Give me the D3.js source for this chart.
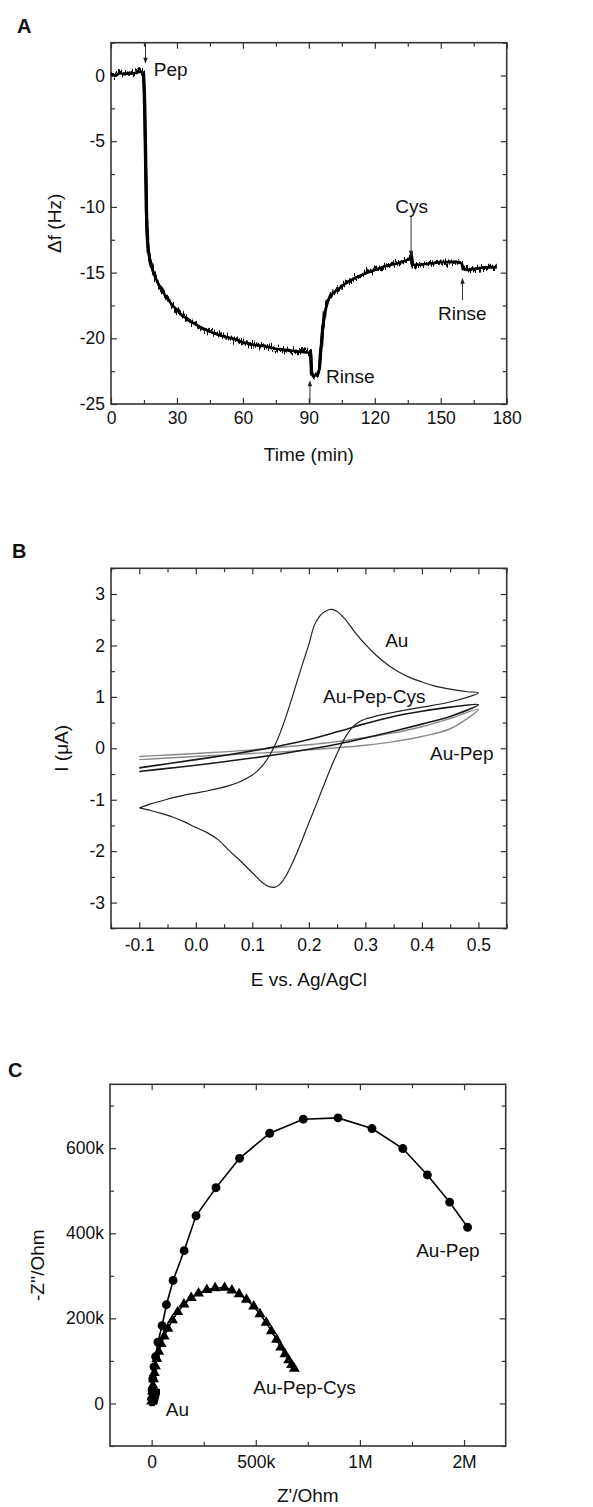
<!DOCTYPE html>
<html>
<head>
<meta charset="utf-8">
<script src="https://cdn.jsdelivr.net/npm/d3@7"></script>
<style>
  body { margin: 0; background: #fff; }
  text { font-family: "Liberation Sans", Arial, sans-serif; fill: #111; }
  .tick text { font-size: 17.5px; fill: #111; }
  .tick line { stroke: #333; stroke-width: 1.2; }
</style>
</head>
<body>
<div id="fig"></div>
<script>
// ---- A: QCM frequency shift vs time ----
var qcmTime  = [0, 2, 4, 6, 8, 10, 12, 14, 14.8, 15.2, 15.5, 15.8, 16.1, 16.4, 16.9, 17.7, 19, 20.8, 23, 25.3, 28, 32, 36, 40, 45, 50, 55, 60, 65, 70, 75, 80, 85, 90, 90.8, 91.2, 92, 93, 94, 94.8, 95.5, 96.3, 97.3, 98.5, 100, 103, 106, 110, 115, 120, 125, 130, 134, 136, 136.5, 137, 140, 145, 150, 155, 158, 159.5, 160.5, 162, 165, 170, 175.5];
var qcmShift = [0.1, 0.0, 0.2, 0.1, 0.2, 0.15, 0.25, 0.3, 0.2, -1.5, -4, -7, -10, -12, -13.2, -14.0, -14.9, -15.6, -16.3, -16.9, -17.5, -18.2, -18.7, -19.1, -19.5, -19.8, -20.0, -20.3, -20.5, -20.6, -20.8, -20.9, -21.0, -21.1, -21.0, -22.6, -22.9, -22.8, -22.8, -22.3, -20.8, -19.3, -18.0, -17.2, -16.7, -16.3, -15.9, -15.5, -15.1, -14.8, -14.5, -14.3, -14.1, -13.9, -13.6, -14.4, -14.4, -14.3, -14.2, -14.2, -14.2, -14.3, -14.7, -14.8, -14.7, -14.6, -14.6];
var qcmXTicks = [0, 30, 60, 90, 120, 150, 180];
var qcmYTicks = [0, -5, -10, -15, -20, -25];
var qcmNotes  = [{ text: "Pep", t: 19.5, v: 0, anchor: "start" },
                 { text: "Rinse", t: 97.8, v: -23.4, anchor: "start" },
                 { text: "Cys", t: 136.8, v: -10.45, anchor: "middle" },
                 { text: "Rinse", t: 148.8, v: -18.6, anchor: "start" }];
var qcmArrows = [{ t: 15.7, from: 2.5, to: 0.9 },
                 { t: 90.5, from: -25, to: -23.2 },
                 { t: 136.5, from: -10.7, to: -13.8 },
                 { t: 159.9, from: -17.1, to: -15.4 }];

// ---- B: cyclic voltammograms ----
var cvAuE = [-0.1, -0.08, -0.06, -0.04, -0.02, 0, 0.02, 0.04, 0.06, 0.08, 0.10, 0.11, 0.12, 0.13, 0.14, 0.15, 0.16, 0.17, 0.18, 0.19, 0.20, 0.21, 0.22, 0.23, 0.24, 0.25, 0.26, 0.27, 0.28, 0.30, 0.32, 0.34, 0.36, 0.38, 0.40, 0.42, 0.44, 0.46, 0.48, 0.50,
             0.45, 0.40, 0.35, 0.32, 0.30, 0.29, 0.28, 0.27, 0.26, 0.25, 0.24, 0.23, 0.22, 0.21, 0.20, 0.19, 0.18, 0.17, 0.16, 0.15, 0.14, 0.13, 0.12, 0.10, 0.08, 0.06, 0.04, 0.02, 0.0, -0.02, -0.04, -0.06, -0.08, -0.1];
var cvAuI = [-1.16, -1.08, -1.02, -0.96, -0.91, -0.87, -0.83, -0.78, -0.72, -0.64, -0.52, -0.43, -0.31, -0.15, 0.06, 0.32, 0.63, 0.97, 1.33, 1.68, 2.02, 2.40, 2.58, 2.67, 2.70, 2.66, 2.56, 2.43, 2.28, 2.02, 1.80, 1.62, 1.48, 1.37, 1.29, 1.22, 1.17, 1.13, 1.10, 1.08,
             0.90, 0.80, 0.70, 0.63, 0.57, 0.52, 0.44, 0.31, 0.13, -0.10, -0.35, -0.62, -0.90, -1.18, -1.45, -1.73, -2.00, -2.25, -2.47, -2.63, -2.70, -2.69, -2.63, -2.42, -2.20, -2.00, -1.78, -1.64, -1.54, -1.43, -1.34, -1.27, -1.21, -1.16];
var cvLoopE = [-0.1, -0.05, 0, 0.05, 0.1, 0.15, 0.2, 0.25, 0.3, 0.35, 0.4, 0.45, 0.5,
               0.45, 0.4, 0.35, 0.3, 0.25, 0.2, 0.15, 0.1, 0.05, 0, -0.05, -0.1];
var cvCysI  = [-0.45, -0.39, -0.33, -0.26, -0.19, -0.11, -0.02, 0.08, 0.20, 0.33, 0.47, 0.62, 0.85,
               0.80, 0.72, 0.62, 0.48, 0.32, 0.17, 0.05, -0.05, -0.14, -0.22, -0.30, -0.38];
var cvPepI  = [-0.22, -0.19, -0.16, -0.13, -0.10, -0.07, -0.03, 0.01, 0.06, 0.13, 0.23, 0.38, 0.76,
               0.58, 0.42, 0.30, 0.21, 0.13, 0.07, 0.02, -0.03, -0.07, -0.10, -0.13, -0.16];
var cvXTicks = [-0.1, 0.0, 0.1, 0.2, 0.3, 0.4, 0.5];
var cvYTicks = [-3, -2, -1, 0, 1, 2, 3];
var cvNotes  = [{ text: "Au", e: 0.335, i: 1.97 },
                { text: "Au-Pep-Cys", e: 0.225, i: 0.88 },
                { text: "Au-Pep", e: 0.4145, i: -0.23 }];

// ---- C: Nyquist plots (values in Ohm) ----
var eisPepRe  = [0, 2e3, 5e3, 11e3, 19e3, 30e3, 50e3, 71e3, 103e3, 156e3, 213e3, 309e3, 422e3, 567e3, 728e3, 895e3, 1058e3, 1206e3, 1324e3, 1431e3, 1517e3];
var eisPepIm  = [11e3, 30e3, 58e3, 86e3, 110e3, 144e3, 183e3, 232e3, 289e3, 359e3, 441e3, 507e3, 576e3, 635e3, 668e3, 671e3, 646e3, 599e3, 537e3, 473e3, 414e3];
var eisCysRe  = [0, 2e3, 4e3, 6e3, 9e3, 13e3, 18e3, 25e3, 34e3, 46e3, 60e3, 78e3, 100e3, 125e3, 155e3, 190e3, 225e3, 265e3, 305e3, 350e3, 385e3, 420e3, 455e3, 490e3, 520e3, 550e3, 575e3, 600e3, 620e3, 640e3, 658e3, 672e3, 685e3];
var eisCysIm  = [5e3, 15e3, 28e3, 42e3, 57e3, 72e3, 88e3, 105e3, 122e3, 140e3, 158e3, 176e3, 196e3, 215e3, 233e3, 248e3, 259e3, 267e3, 271e3, 272e3, 266e3, 257e3, 244e3, 228e3, 210e3, 190e3, 170e3, 150e3, 132e3, 116e3, 102e3, 91e3, 82e3];
var eisAuRe   = [2e3, 3e3, 5e3, 8e3, 11e3, 13e3, 15e3, 17e3, 19e3, 21e3, 23e3, 25e3, 27e3];
var eisAuIm   = [0, 3e3, 5e3, 6e3, 5e3, 4e3, 5e3, 8e3, 12e3, 16e3, 20e3, 24e3, 28e3];
var eisXTicks = [0, 500e3, 1000e3, 1500e3];
var eisXLabels = ["0", "500k", "1M", "2M"];
var eisYTicks = [0, 200e3, 400e3, 600e3];
var eisYLabels = ["0", "200k", "400k", "600k"];
var eisNotes  = [{ text: "Au-Pep", re: 1270e3, im: 343e3 },
                 { text: "Au-Pep-Cys", re: 488e3, im: 23e3 },
                 { text: "Au", re: 68e3, im: -29e3 }];

var W = 593, H = 1507;
var svg = d3.select("#fig").append("svg").attr("width", W).attr("height", H);
svg.append("rect").attr("width", W).attr("height", H).attr("fill", "#fff");

// rough texture for the QCM trace (display only, data untouched)
var flt = svg.append("defs").append("filter").attr("id", "jitter")
  .attr("filterUnits", "userSpaceOnUse")
  .attr("x", 100).attr("y", 30).attr("width", 420).attr("height", 390);
flt.append("feTurbulence").attr("type", "fractalNoise").attr("baseFrequency", "0.9 0.05")
  .attr("numOctaves", 2).attr("seed", 3).attr("result", "n");
flt.append("feColorMatrix").attr("in", "n").attr("type", "matrix")
  .attr("values", "0 0 0 0 0.5  0 1 0 0 0  0 0 1 0 0  0 0 0 0 1").attr("result", "m");
flt.append("feDisplacementMap").attr("in", "SourceGraphic").attr("in2", "m")
  .attr("scale", 13).attr("xChannelSelector", "R").attr("yChannelSelector", "G");

function range(a, b, step) {
  return d3.range(Math.round((b - a) / step) + 1).map(function(k) { return +(a + k * step).toFixed(6); });
}

function addTicks(axisFn, scale, pos, values, size, labels, pad) {
  var ax = axisFn(scale).tickValues(values).tickSize(-size).tickPadding(pad || 0)
    .tickFormat(labels ? function(d, i) { return labels[i]; } : "");
  svg.append("g").attr("transform", pos).call(ax)
    .attr("font-family", null).attr("font-size", null).attr("color", "#333")
    .call(function(s) { s.select(".domain").remove(); });
}

// draws the box with inward ticks on all four sides
function makeFrame(p) {
  var x = d3.scaleLinear().domain(p.xDomain).range([p.left, p.right]);
  var y = d3.scaleLinear().domain(p.yDomain).range([p.bottom, p.top]);
  var bx = "translate(0," + p.bottom + ")", tx = "translate(0," + p.top + ")";
  var ly = "translate(" + p.left + ",0)", ry = "translate(" + p.right + ",0)";
  addTicks(d3.axisBottom, x, bx, p.xMinor, 4);
  addTicks(d3.axisTop, x, tx, p.xMinor, 4);
  addTicks(d3.axisLeft, y, ly, p.yMinor, 4);
  addTicks(d3.axisRight, y, ry, p.yMinor, 4);
  addTicks(d3.axisBottom, x, bx, p.xMajor, 6, p.xLabels, p.padX);
  addTicks(d3.axisTop, x, tx, p.xMajor, 6);
  addTicks(d3.axisLeft, y, ly, p.yMajor, 6, p.yLabels, 6);
  addTicks(d3.axisRight, y, ry, p.yMajor, 6);
  svg.append("rect").attr("x", p.left).attr("y", p.top)
    .attr("width", p.right - p.left).attr("height", p.bottom - p.top)
    .attr("fill", "none").attr("stroke", "#333").attr("stroke-width", 1.6);
  svg.append("text").attr("x", p.letterX).attr("y", p.letterY)
    .attr("font-size", 20).attr("font-weight", "bold").text(p.letter);
  svg.append("text").attr("x", (p.left + p.right) / 2).attr("y", p.xTitleY)
    .attr("text-anchor", "middle").attr("font-size", 19).text(p.xTitle);
  svg.append("text")
    .attr("transform", "translate(" + p.yTitleX + "," + (p.top + p.bottom) / 2 + ") rotate(-90)")
    .attr("text-anchor", "middle").attr("dy", "0.35em").attr("font-size", 19).text(p.yTitle);
  return { x: x, y: y };
}

// ---------- Panel A ----------
var A = makeFrame({
  left: 111, right: 506.7, top: 42.7, bottom: 404,
  xDomain: [0, 180], yDomain: [-25, 2.5],
  xMajor: qcmXTicks, xMinor: range(15, 165, 30), xLabels: qcmXTicks.map(String), padX: 8,
  yMajor: qcmYTicks, yMinor: range(-22.5, 2.5, 5), yLabels: qcmYTicks.map(String),
  letter: "A", letterX: 17, letterY: 33,
  xTitle: "Time (min)", xTitleY: 461, yTitle: "\u0394f (Hz)", yTitleX: 54
});

var qcmLine = d3.line().x(function(d, i) { return A.x(qcmTime[i]); })
  .y(function(d) { return A.y(d); });
svg.append("path").datum(qcmShift).attr("d", qcmLine)
  .attr("fill", "none").attr("stroke", "#000").attr("stroke-width", 3.4)
  .attr("stroke-linejoin", "round").attr("filter", "url(#jitter)");
svg.append("path").datum(qcmShift).attr("d", qcmLine)
  .attr("fill", "none").attr("stroke", "#000").attr("stroke-width", 2.6)
  .attr("stroke-linejoin", "round");

qcmArrows.forEach(function(a) {
  var x0 = A.x(a.t), y0 = A.y(a.from), y1 = A.y(a.to);
  var dir = y1 > y0 ? 1 : -1;
  svg.append("line").attr("x1", x0).attr("x2", x0).attr("y1", y0).attr("y2", y1 - dir * 5)
    .attr("stroke", "#333").attr("stroke-width", 1);
  svg.append("path")
    .attr("d", "M" + (x0 - 2.2) + "," + (y1 - dir * 6) + "L" + (x0 + 2.2) + "," + (y1 - dir * 6) + "L" + x0 + "," + y1 + "Z")
    .attr("fill", "#222");
});
qcmNotes.forEach(function(n) {
  svg.append("text").attr("x", A.x(n.t)).attr("y", A.y(n.v))
    .attr("text-anchor", n.anchor).attr("font-size", 19).text(n.text);
});

// ---------- Panel B ----------
var B = makeFrame({
  left: 111, right: 506.7, top: 568.3, bottom: 928.3,
  xDomain: [-0.15, 0.55], yDomain: [-3.5, 3.5],
  xMajor: cvXTicks, xMinor: range(-0.15, 0.55, 0.1),
  xLabels: cvXTicks.map(function(d) { return d.toFixed(1); }), padX: 10,
  yMajor: cvYTicks, yMinor: range(-3.5, 3.5, 1), yLabels: cvYTicks.map(String),
  letter: "B", letterX: 12, letterY: 558,
  xTitle: "E vs. Ag/AgCl", xTitleY: 986, yTitle: "I (\u03bcA)", yTitleX: 61
});

function cvPath(es, is, color, width) {
  var line = d3.line().x(function(d, i) { return B.x(es[i]); })
    .y(function(d) { return B.y(d); }).curve(d3.curveCatmullRom);
  svg.append("path").datum(is).attr("d", line)
    .attr("fill", "none").attr("stroke", color).attr("stroke-width", width);
}
cvPath(cvLoopE, cvPepI, "#8a8a8a", 1.4);
cvPath(cvLoopE, cvCysI, "#1a1a1a", 1.6);
cvPath(cvAuE, cvAuI, "#222", 1.2);
cvNotes.forEach(function(n) {
  svg.append("text").attr("x", B.x(n.e)).attr("y", B.y(n.i))
    .attr("font-size", 19).text(n.text);
});

// ---------- Panel C ----------
var C = makeFrame({
  left: 110, right: 505.7, top: 1084.3, bottom: 1446,
  xDomain: [-200e3, 1700e3], yDomain: [-100e3, 750e3],
  xMajor: eisXTicks, xMinor: [250e3, 750e3, 1250e3], xLabels: eisXLabels, padX: 10,
  yMajor: eisYTicks, yMinor: [-100e3, 100e3, 300e3, 500e3, 700e3], yLabels: eisYLabels,
  letter: "C", letterX: 8, letterY: 1077,
  xTitle: "Z'/Ohm", xTitleY: 1502, yTitle: "-Z''/Ohm", yTitleX: 37
});

function eisSeries(re, im, symbol, size) {
  var line = d3.line().x(function(d, i) { return C.x(re[i]); }).y(function(d) { return C.y(d); });
  svg.append("path").datum(im).attr("d", line)
    .attr("fill", "none").attr("stroke", "#000").attr("stroke-width", 1.6);
  svg.append("g").selectAll("path").data(im).join("path")
    .attr("transform", function(d, i) { return "translate(" + C.x(re[i]) + "," + C.y(d) + ")"; })
    .attr("d", d3.symbol().type(symbol).size(size)).attr("fill", "#000");
}
eisSeries(eisAuRe, eisAuIm, d3.symbolSquare, 30);
eisSeries(eisCysRe, eisCysIm, d3.symbolTriangle, 52);
eisSeries(eisPepRe, eisPepIm, d3.symbolCircle, 62);
eisNotes.forEach(function(n) {
  svg.append("text").attr("x", C.x(n.re)).attr("y", C.y(n.im))
    .attr("font-size", 19).text(n.text);
});
</script>
</body>
</html>
